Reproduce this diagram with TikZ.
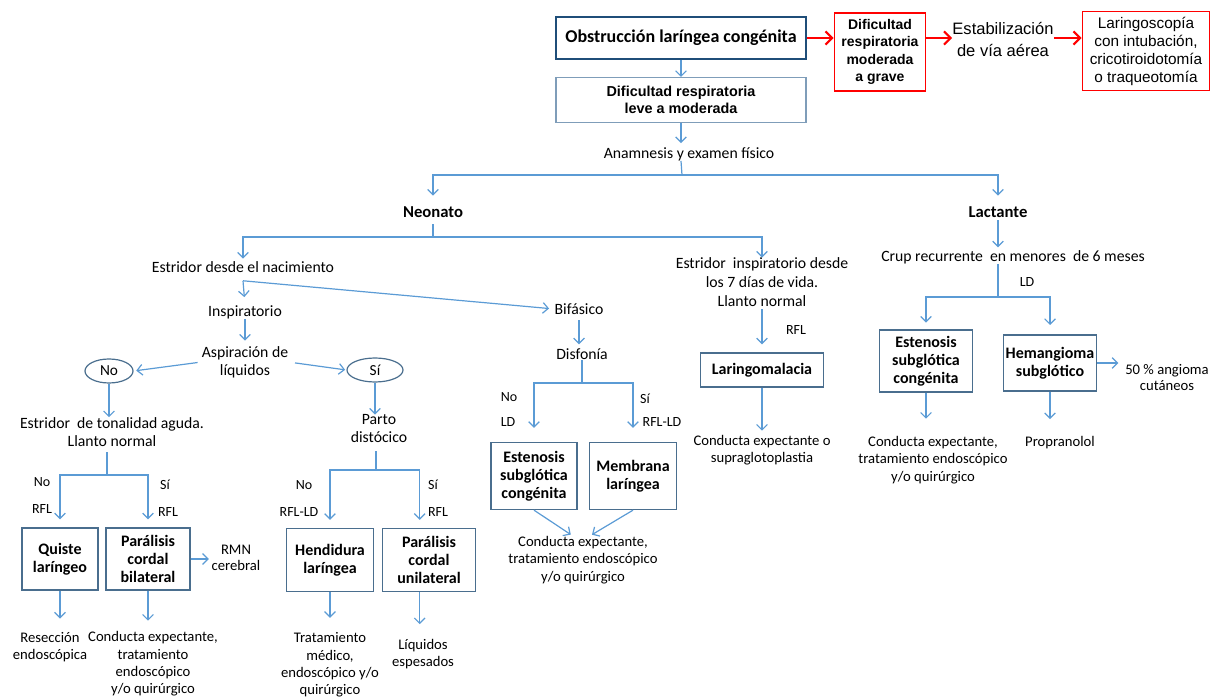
\documentclass[tikz,border=0pt]{standalone}
\usepackage{fontspec}
\setmainfont{Carlito}
\newfontfamily\arialf{Liberation Sans}
\usetikzlibrary{arrows.meta,shapes.geometric}
\definecolor{cblue}{HTML}{5B9BD5}
\definecolor{bxblue}{HTML}{4A6E8E}
\definecolor{topblue}{HTML}{1F4E79}
\definecolor{lightbx}{HTML}{7F9DB9}
\definecolor{redc}{HTML}{FF0000}
\tikzset{
  conn/.style={draw=cblue, line width=0.9pt},
  arr/.style={conn, -{Straight Barb[length=4pt,width=8pt]}},
  redarr/.style={draw=redc, line width=1.6pt, -{Straight Barb[length=5pt,width=10pt]}},
  txt/.style={align=center, inner sep=0pt, font=\fontsize{11.8}{13.5}\selectfont},
  stxt/.style={align=center, inner sep=0pt, font=\fontsize{11}{13}\selectfont},
  btxt/.style={align=center, inner sep=0pt, font=\bfseries\fontsize{12.5}{14}\selectfont},
  lbl/.style={inner sep=0pt, font=\fontsize{10.5}{12}\selectfont},
  bx/.style={draw=bxblue, line width=1pt, align=center, inner sep=0pt, font=\bfseries\fontsize{12}{13.5}\selectfont},
  ell/.style={draw=bxblue, ellipse, line width=0.9pt, inner sep=0pt, font=\fontsize{11.5}{13}\selectfont},
  redbx/.style={draw=redc, line width=1.3pt, align=center, inner sep=0pt},
}
\begin{document}
\begin{tikzpicture}[x=0.75pt,y=-0.75pt]
\useasboundingbox (0,0) rectangle (1218,698);

% ---------- top ----------
\node[draw=topblue, line width=2.2pt, inner sep=0pt, minimum width=250*0.75pt, minimum height=42*0.75pt,
      font=\bfseries\fontsize{13.5}{15}\selectfont] (obs) at (681,38) {Obstrucción laríngea congénita};
\node[draw=lightbx, line width=0.8pt, inner sep=0pt, align=center, minimum width=250*0.75pt, minimum height=45*0.75pt,
      font=\arialf\bfseries\fontsize{10.8}{12.5}\selectfont] (leve) at (681,100) {Dificultad respiratoria\\leve a moderada};
\node[txt] (anam) at (689,154) {Anamnesis y examen físico};

\node[redbx, minimum width=91*0.75pt, minimum height=78*0.75pt, font=\arialf\bfseries\fontsize{10.5}{13}\selectfont]
  (rb1) at (880,52) {Dificultad\\respiratoria\\moderada\\a grave};
\node[align=center, inner sep=0pt, font=\arialf\fontsize{12.4}{16.5}\selectfont] (stab) at (1003,39) {Estabilización\\de vía aérea};
\node[redbx, minimum width=127*0.75pt, minimum height=79*0.75pt, font=\arialf\fontsize{11.5}{13.5}\selectfont]
  (rb2) at (1146,51) {Laringoscopía\\con intubación,\\cricotiroidotomía\\o traqueotomía};

\draw[arr] (obs) -- (leve);
\draw[arr, shorten >=3pt] (leve.south) -- (leve.south |- anam.north);
\draw[redarr] (obs.east) -- (obs.east -| rb1.west);
\draw[redarr] (obs.east -| rb1.east) -- (obs.east -| stab.west);
\draw[redarr] (obs.east -| stab.east) -- (obs.east -| rb2.west);

% ---------- level 1 ----------
\node[btxt] (neo) at (433,212) {Neonato};
\node[btxt] (lac) at (998,212) {Lactante};
\coordinate (s1) at (682,175);
\draw[conn] (anam.south -| leve.south) -- (s1);
\draw[arr, shorten >=8pt] (s1) -| (neo.north);
\draw[arr, shorten >=8pt] (s1) -| (lac.north);

% ---------- Neonato ----------
\node[txt] (edn) at (243,267) {Estridor desde el nacimiento};
\node[txt, font=\fontsize{11.8}{14}\selectfont] (e7) at (762,282) {Estridor\ \ inspiratorio desde\\los 7 días de vida.\\Llanto normal};
\coordinate (s2) at (433,237);
\draw[conn, shorten <=5pt] (neo.south) -- (s2);
\draw[arr, shorten >=2pt] (s2) -| (edn.north);
\draw[arr] (s2) -| (e7.north);

\node[txt] (insp) at (245,312) {Inspiratorio};
\node[txt] (bif) at (579,309) {Bifásico};
\draw[arr, shorten >=6pt] ([yshift=-6pt]edn.south) -- (insp.north);
\draw[arr, shorten >=4pt] ([yshift=-6pt]edn.south) -- (bif.west);

\node[txt] (asp) at (245,362) {Aspiración de\\líquidos};
\draw[arr, shorten >=4pt] (insp.south) -- (asp.north);
\node[ell, minimum width=48*0.75pt, minimum height=24*0.75pt] (noell) at (109,371) {No};
\node[ell, minimum width=56*0.75pt, minimum height=24*0.75pt] (siell) at (375,370) {Sí};
\draw[arr, shorten <=3pt, shorten >=2pt] (asp.west) -- (noell.east);
\draw[arr, shorten <=5pt, shorten >=1pt] (asp.east) -- (siell.west);

% left: No
\node[txt] (agu) at (112,432) {Estridor\ \ de tonalidad aguda.\\Llanto normal};
\draw[arr] (noell.south) -- (noell.south |- agu.north);
\coordinate (s4) at (107,475);
\draw[conn] ([yshift=-4pt]agu.south -| s4) -- (s4);
\node[bx, minimum width=76*0.75pt, minimum height=62*0.75pt] (quiste) at (60,559) {Quiste\\laríngeo};
\node[bx, minimum width=84*0.75pt, minimum height=62*0.75pt] (pcb) at (148,559) {Parálisis\\cordal\\bilateral};
\draw[arr, shorten >=6pt] (s4) -| (quiste.north);
\draw[arr, shorten >=6pt] (s4) -| (pcb.north);
\node[lbl] (lno1) at (42,482) {No};
\node[lbl] (lrfl1) at (42,509) {RFL};
\node[lbl] (lsi1) at (165,485) {Sí};
\node[lbl] (lrfl2) at (168,512) {RFL};
\node[stxt, font=\fontsize{11}{12.5}\selectfont] (rmn) at (236,558) {RMN\\cerebral};
\draw[arr, shorten >=2pt] (pcb.east) -- (pcb.east -| rmn.west);
\node[stxt] (resec) at (50,647) {Resección\\endoscópica};
\node[stxt] (cond1) at (153,664) {Conducta expectante,\\tratamiento\\endoscópico\\y/o quirúrgico};
\draw[arr, shorten >=10pt] (quiste.south) -- (quiste.south |- resec.north);
\draw[arr, shorten >=8pt] (pcb.south) -- (pcb.south |- cond1.north);

% middle-left: Sí
\node[txt] (parto) at (379,429) {Parto\\distócico};
\draw[arr] (siell.south) -- (siell.south |- parto.north);
\coordinate (s5) at (376,470);
\draw[conn] ([yshift=-6pt]parto.south -| s5) -- (s5);
\node[bx, minimum width=87*0.75pt, minimum height=63*0.75pt] (hend) at (330,560) {Hendidura\\laríngea};
\node[bx, minimum width=93*0.75pt, minimum height=63*0.75pt] (pcu) at (429,560) {Parálisis\\cordal\\unilateral};
\draw[arr, shorten >=6pt] (s5) -| (hend.north);
\draw[arr, shorten >=6pt] (s5) -| ([xshift=-7pt]pcu.north);
\node[lbl] (lno2) at (304,485) {No};
\node[lbl] (lrflld1) at (299,512) {RFL-LD};
\node[lbl] (lsi2) at (433,485) {Sí};
\node[lbl] (lrfl3) at (438,512) {RFL};
\node[stxt] (trat) at (330,665) {Tratamiento\\médico,\\endoscópico y/o\\quirúrgico};
\node[stxt] (liq) at (423,654) {Líquidos\\espesados};
\draw[arr, shorten >=11pt] (hend.south) -- (hend.south |- trat.north);
\path ([xshift=-7pt]pcu.south) coordinate (pcub);
\draw[arr, shorten >=11pt] (pcub) -- (pcub |- liq.north);

% Bifásico
\node[txt] (disf) at (582,354) {Disfonía};
\draw[arr, shorten <=4pt, shorten >=3pt] (bif.south) -- (bif.south |- disf.north);
\coordinate (s6) at (582,383);
\draw[conn] (disf.south) -- (s6);
\node[bx, minimum width=86*0.75pt, minimum height=67*0.75pt] (est2) at (534,476) {Estenosis\\subglótica\\congénita};
\node[bx, minimum width=87*0.75pt, minimum height=67*0.75pt] (memb) at (633,476) {Membrana\\laríngea};
\draw[arr, shorten >=10.5pt] (s6) -| (est2.north);
\draw[arr, shorten >=10.5pt] (s6) -| (memb.north);
\node[lbl] (lno3) at (509,397) {No};
\node[lbl] (lld1) at (508,422) {LD};
\node[lbl] (lsi3) at (645,399) {Sí};
\node[lbl] (lrflld2) at (662,422) {RFL-LD};
\node[stxt] (cond2) at (583,560) {Conducta expectante,\\tratamiento endoscópico\\y/o quirúrgico};
\draw[arr, shorten >=2pt] (est2.south) -- ([xshift=-7.5pt]cond2.north);
\draw[arr, shorten >=2pt] (memb.south) -- ([xshift=5pt]cond2.north);

% 7 dias
\node[draw=bxblue, line width=1pt, inner sep=0pt, minimum width=123*0.75pt, minimum height=34*0.75pt,
      font=\bfseries\fontsize{12}{13.5}\selectfont] (lmal) at (762,370) {Laringomalacia};
\draw[arr, shorten <=2pt, shorten >=6pt] (e7.south) -- (lmal.north);
\node[lbl] (lrfl4) at (796,330) {RFL};
\node[stxt] (cond3) at (762,450) {Conducta expectante o\\supraglotoplastia};
\draw[arr, shorten >=3pt] (lmal.south) -- (cond3.north);

% ---------- Lactante ----------
\node[txt] (crup) at (1013,257) {Crup recurrente\ \ en menores\ \ de 6 meses};
\draw[arr, shorten <=2pt, shorten >=2pt] (lac.south) -- (lac.south |- crup.north);
\coordinate (s7) at (998,297);
\draw[conn] (crup.south -| s7) -- (s7);
\node[lbl] (lld2) at (1027,282) {LD};
\node[bx, minimum width=93*0.75pt, minimum height=62*0.75pt] (est3) at (926,361) {Estenosis\\subglótica\\congénita};
\node[bx, minimum width=93*0.75pt, minimum height=56*0.75pt] (hem) at (1050,363) {Hemangioma\\subglótico};
\draw[arr, shorten >=5pt] (s7) -| (est3.north);
\draw[arr, shorten >=7pt] (s7) -| (hem.north);
\node[stxt, font=\fontsize{11}{12}\selectfont] (ang) at (1167,378) {50 \% angioma\\cutáneos};
\draw[arr, shorten >=5pt] (hem.east) -- (hem.east -| ang.west);
\node[stxt] (cond4) at (933,460) {Conducta expectante,\\tratamiento endoscópico\\y/o quirúrgico};
\node[stxt] (prop) at (1060,443) {Propranolol};
\draw[arr, shorten >=13pt] (est3.south) -- (est3.south |- cond4.north);
\draw[arr, shorten >=13pt] (hem.south) -- (hem.south |- prop.north);

\end{tikzpicture}
\end{document}
